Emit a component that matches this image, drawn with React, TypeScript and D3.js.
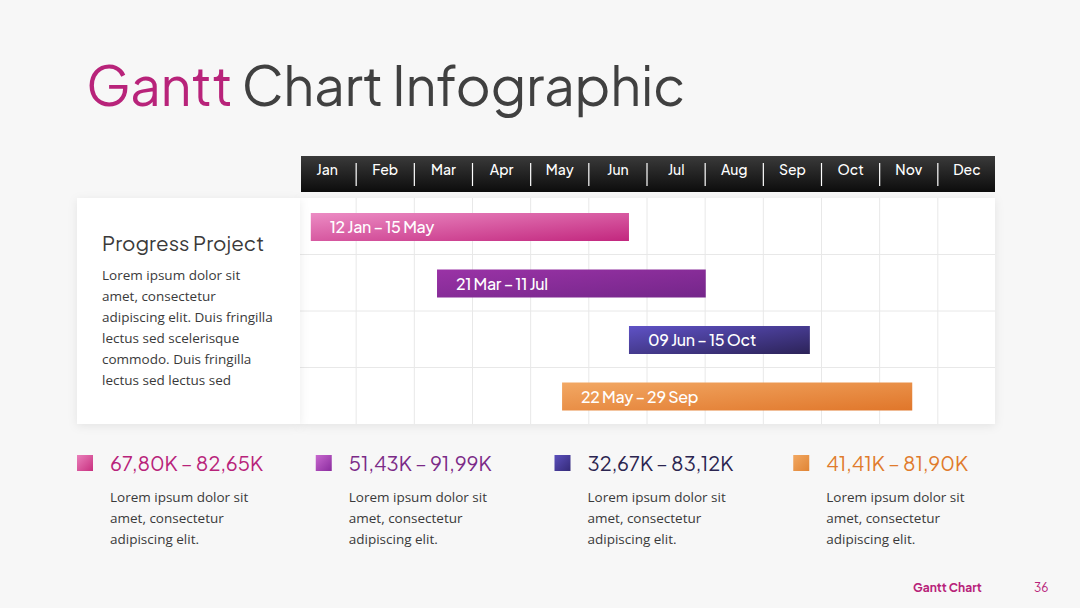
import * as d3 from "d3";
import React from "react";

const months = ["Jan", "Feb", "Mar", "Apr", "May", "Jun", "Jul", "Aug", "Sep", "Oct", "Nov", "Dec"];

// bar extents in month units (0 = start of Jan)
const taskLabels = ["12 Jan – 15 May", "21 Mar – 11 Jul", "09 Jun – 15 Oct", "22 May – 29 Sep"];
const taskStart = [0.22, 2.39, 5.69, 4.54];
const taskEnd = [5.69, 7.01, 8.8, 10.56];

const legendRanges = ["67,80K – 82,65K", "51,43K – 91,99K", "32,67K – 83,12K", "41,41K – 81,90K"];
const legendText = ["Lorem ipsum dolor sit", "amet, consectetur", "adipiscing elit."];
const cardText = [
  "Lorem ipsum dolor sit",
  "amet, consectetur",
  "adipiscing elit. Duis fringilla",
  "lectus sed scelerisque",
  "commodo. Duis fringilla",
  "lectus sed lectus sed",
];

const barColors = [
  ["#ec8cc4", "#c2277e"],
  ["#9a33a6", "#74268a"],
  ["#5f52c6", "#2c2358"],
  ["#f2a864", "#e0762a"],
];
const swatchColors = [
  ["#ea80bb", "#c8307f"],
  ["#c868cf", "#8a2c9e"],
  ["#5c50bc", "#342a78"],
  ["#f2a862", "#e08434"],
];
const legendColors = ["#b8237a", "#7b2a87", "#2b2550", "#e07b2c"];

const W = 1080;
const H = 608;
const gridLeft = 298;
const gridRight = 996;
const gridTop = 198;
const gridBottom = 424;
const headFont = "'Plus Jakarta Sans', Inter, 'Noto Sans', sans-serif";
const bodyFont = "'Open Sans', 'Noto Sans', sans-serif";

export default function App() {
  const x = d3.scaleLinear().domain([0, 12]).range([gridLeft, gridRight]);
  const col = d3.scaleBand<string>().domain(months).range([gridLeft, gridRight]);
  const row = d3.scaleBand<number>().domain(d3.range(taskLabels.length)).range([gridTop, gridBottom]);
  const legendX = d3.scaleBand<number>().domain(d3.range(legendRanges.length)).range([77, 1032]);

  return (
    <div style={{ position: "fixed", left: 0, top: 0 }}>
      <svg width={W} height={H} style={{ display: "block" }}>
        <defs>
          {barColors.map((c, i) => (
            <linearGradient key={i} id={`bar${i}`} x1="0" y1="0" x2="1" y2="1">
              <stop offset="0%" stopColor={c[0]} />
              <stop offset="100%" stopColor={c[1]} />
            </linearGradient>
          ))}
          {swatchColors.map((c, i) => (
            <linearGradient key={i} id={`sw${i}`} x1="0" y1="0" x2="1" y2="1">
              <stop offset="0%" stopColor={c[0]} />
              <stop offset="100%" stopColor={c[1]} />
            </linearGradient>
          ))}
          <linearGradient id="head" x1="0" y1="0" x2="0" y2="1">
            <stop offset="0%" stopColor="#3a3a3a" />
            <stop offset="100%" stopColor="#0c0c0c" />
          </linearGradient>
          <filter id="shadow" x="-10%" y="-10%" width="120%" height="130%">
            <feDropShadow dx="0" dy="2" stdDeviation="5" floodColor="#000" floodOpacity="0.08" />
          </filter>
        </defs>

        <rect width={W} height={H} fill="#f7f7f7" />

        {/* title */}
        <text x={86} y={106} fontFamily={headFont} fontSize={54} fill="#404040" letterSpacing={-0.3}>
          <tspan fill="#b8237a">Gantt</tspan> Chart Infographic
        </text>

        {/* header */}
        <rect x={301} y={156} width={694} height={36} fill="url(#head)" />
        {months.map((m) => (
          <text
            key={m}
            x={col(m)! + col.bandwidth() / 2}
            y={175}
            textAnchor="middle"
            fontFamily={headFont}
            fontSize={14}
            fontWeight={500}
            fill="#fff"
          >
            {m}
          </text>
        ))}
        {months.slice(1).map((m) => (
          <line key={m} x1={col(m)} x2={col(m)} y1={163} y2={186} stroke="#fff" strokeWidth={1.2} />
        ))}

        {/* grid box */}
        <rect x={300} y={gridTop} width={695} height={gridBottom - gridTop} fill="#fff" filter="url(#shadow)" />
        {months.slice(1).map((m) => (
          <line key={m} x1={col(m)} x2={col(m)} y1={gridTop} y2={gridBottom} stroke="#e8e8e8" />
        ))}
        {d3.range(1, taskLabels.length).map((i) => (
          <line key={i} x1={300} x2={995} y1={row(i)} y2={row(i)} stroke="#e8e8e8" />
        ))}

        {/* left card */}
        <rect x={77} y={gridTop} width={223} height={gridBottom - gridTop} fill="#fff" filter="url(#shadow)" />
        <text x={102} y={251} fontFamily={headFont} fontSize={20.5} fill="#3a3a3a">
          Progress Project
        </text>
        {cardText.map((t, i) => (
          <text key={i} x={102} y={280 + i * 21} fontFamily={bodyFont} fontSize={13.5} fill="#3a3a3a">
            {t}
          </text>
        ))}

        {/* bars */}
        {taskLabels.map((t, i) => {
          const y0 = row(i)! + 15;
          const h = 28;
          return (
            <g key={t}>
              <rect x={x(taskStart[i])} y={y0} width={x(taskEnd[i]) - x(taskStart[i])} height={h} fill={`url(#bar${i})`} />
              <text x={x(taskStart[i]) + 19} y={y0 + h / 2 + 6} fontFamily={headFont} fontSize={16} fontWeight={500} fill="#fff" letterSpacing={-0.3}>
                {t}
              </text>
            </g>
          );
        })}

        {/* legend */}
        {legendRanges.map((r, i) => {
          const lx = legendX(i)!;
          return (
            <g key={r}>
              <rect x={lx} y={455} width={16} height={16} fill={`url(#sw${i})`} />
              <text x={lx + 33} y={471} fontFamily={headFont} fontSize={20} fill={legendColors[i]}>
                {r}
              </text>
              {legendText.map((t, j) => (
                <text key={j} x={lx + 33} y={502 + j * 21} fontFamily={bodyFont} fontSize={13.5} fill="#3a3a3a">
                  {t}
                </text>
              ))}
            </g>
          );
        })}

        {/* footer */}
        <text x={913} y={592} fontFamily={headFont} fontSize={12} fontWeight={700} fill="#b8237a">
          Gantt Chart
        </text>
        <text x={1034} y={592} fontFamily={headFont} fontSize={12} fill="#b8237a">
          36
        </text>
      </svg>
    </div>
  );
}
